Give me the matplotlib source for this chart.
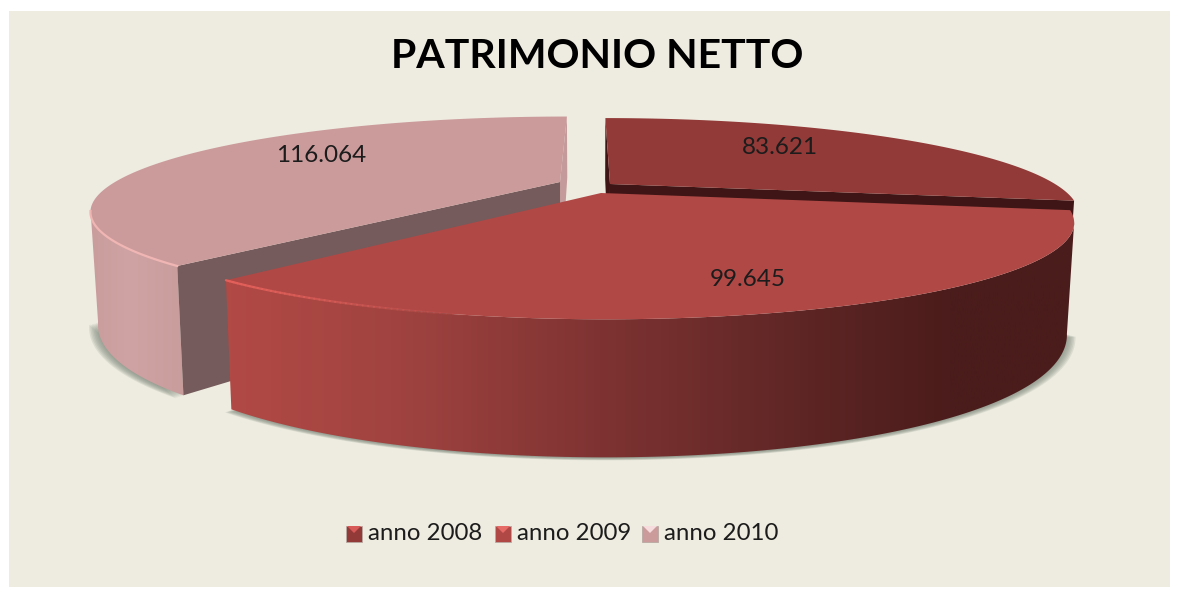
import numpy as np
import matplotlib
matplotlib.use("Agg")
import matplotlib.pyplot as plt
from matplotlib.patches import Polygon, Rectangle

plt.rcParams["font.family"] = ["Lato", "DejaVu Sans"]

# data
years = ["anno 2008", "anno 2009", "anno 2010"]
values = [83.621, 99.645, 116.064]

# styling for each slice
top_colors = ["#923a38", "#b04846", "#cb9b9b"]
inner_colors = ["#3f1615", "#4a1c1a", "#755b5b"]
legend_light = ["#d85a58", "#e66a66", "#f6dcdc"]

# 3d look of the pie, in pixels of the picture
X0, Y0 = 590, 190
A, B = 445, 87.5
PERSP = 0.30
TAPER = 0.985
# x shift, y shift, width factor of each exploded slice
offsets = [(20, -6, 1.0), (11, 3, 1.012), (-30, -8, 1.0)]

# where the outline turns away from the viewer, side walls stop there
SILHOUETTE_R = np.pi - np.arcsin(np.sqrt(1 - PERSP ** 2))
SILHOUETTE_L = 2 * np.pi - SILHOUETTE_R


def project(theta, r, off, bottom=False):
    """Map angle (clockwise from 12 o'clock) and radius to picture pixels."""
    u = r * np.sin(theta)
    v = -r * np.cos(theta)
    s = 1 / (1 - PERSP * v)
    px = (off[0] + A * off[2] * u) * s
    py = (off[1] + B * v) * s
    if bottom:
        return X0 + px * TAPER, Y0 + py * TAPER + 100 + 40 * v
    return X0 + px, Y0 + py


def gradient_poly(ax, xs, ys, stops, colors, zorder):
    """Fill a polygon with a left to right colour gradient."""
    grid = np.linspace(stops[0], stops[-1], 400)
    rgb = np.array([matplotlib.colors.to_rgb(c) for c in colors])
    img = np.stack([np.interp(grid, stops, rgb[:, i]) for i in range(3)], axis=1)[None, :, :]
    im = ax.imshow(img, extent=(stops[0], stops[-1], 596, 0), aspect="auto", zorder=zorder)
    patch = Polygon(np.column_stack([xs, ys]), closed=True, transform=ax.transData, fc="none", ec="none")
    ax.add_patch(patch)
    im.set_clip_path(patch)


def draw_shadow(ax, th, off):
    # stacked outlines give a soft edge, wider sideways than downwards
    bx, by = project(th, 1, off, bottom=True)
    cx = 590
    for grow in np.linspace(1.018, 0.995, 9):
        ax.fill(cx + (bx - cx) * grow, by + 3 * (grow - 0.995) / 0.023,
                color="#7f8a7c", alpha=0.17, lw=0, zorder=1)


def side_poly(th, off):
    tx, ty = project(th, 1, off)
    bx, by = project(th, 1, off, bottom=True)
    return np.r_[tx, bx[::-1]], np.r_[ty, by[::-1]]


def cut_face(ax, t, off, color, zorder, cut=1.0):
    # cut < 1 draws only the upper part of the wall
    ax1, ay1 = project(t, 0, off)
    ax2, ay2 = project(t, 0, off, bottom=True)
    ox1, oy1 = project(t, 1, off)
    ox2, oy2 = project(t, 1, off, bottom=True)
    ax2, ay2 = ax1 + (ax2 - ax1) * cut, ay1 + (ay2 - ay1) * cut
    ox2, oy2 = ox1 + (ox2 - ox1) * cut, oy1 + (oy2 - oy1) * cut
    ax.fill([ax1, ox1, ox2, ax2], [ay1, oy1, oy2, ay2], color=color, lw=0, zorder=zorder)


fig = plt.figure(figsize=(11.8, 5.96), dpi=100, facecolor="white")
ax = fig.add_axes([0, 0, 1, 1])
ax.add_patch(Rectangle((9, 11), 1161, 576, fc="#eeece1", ec="none", zorder=0))

angles = np.radians(np.r_[0, np.cumsum(values)] / sum(values) * 360)
arcs = [np.linspace(angles[i], angles[i + 1], 200) for i in range(3)]

draw_shadow(ax, np.linspace(angles[2], SILHOUETTE_L, 80), offsets[2])
draw_shadow(ax, np.linspace(SILHOUETTE_R, angles[2], 120), offsets[1])

# slice 2010 (back left)
xs, ys = side_poly(np.linspace(angles[2], SILHOUETTE_L, 80), offsets[2])
gradient_poly(ax, xs, ys, [85, 130, 205], ["#c99c9c", "#cfa3a3", "#c79a9a"], 2)
cut_face(ax, angles[3], offsets[2], "#c49a9a", 2.1)
cut_face(ax, angles[2], offsets[2], inner_colors[2], 2.2)
tx, ty = project(arcs[2], 1, offsets[2])
ax0, ay0 = project(0, 0, offsets[2])
ax.fill(np.r_[tx, ax0], np.r_[ty, ay0], color=top_colors[2], lw=0, zorder=2.3)
keep = arcs[2] < SILHOUETTE_L
ax.plot(tx[keep], ty[keep], color="#f0b6b4", lw=1.6, zorder=2.4)

# slice 2008 (back right), only a thin band of its walls shows behind 2009
cut_face(ax, angles[0], offsets[0], inner_colors[0], 3.1)
cut_face(ax, angles[1], offsets[0], inner_colors[0], 3.2, cut=0.2)
tx, ty = project(arcs[0], 1, offsets[0])
ax0, ay0 = project(0, 0, offsets[0])
ax.fill(np.r_[tx, ax0], np.r_[ty, ay0], color=top_colors[0], lw=0, zorder=3.3)

# slice 2009 (front)
xs, ys = side_poly(np.linspace(SILHOUETTE_R, angles[2], 200), offsets[1])
gradient_poly(ax, xs, ys, [220, 400, 600, 800, 950, 1085],
              ["#b24a46", "#a04340", "#7e3332", "#5e2625", "#4b1c1b", "#4a1c1b"], 4)
tx, ty = project(arcs[1], 1, offsets[1])
ax0, ay0 = project(0, 0, offsets[1])
ax.fill(np.r_[tx, ax0], np.r_[ty, ay0], color=top_colors[1], lw=0, zorder=4.3)
# rim highlight fades out towards the middle of the front edge
for i in range(150, 199):
    fade = (i - 150) / 48
    ax.plot(tx[i:i + 2], ty[i:i + 2], color="#e4605a", alpha=fade, lw=1.6, zorder=4.4,
            solid_capstyle="round")

# value labels
label_xy = [(780, 147), (748, 280), (321, 156)]
for v, (lx, ly) in zip(values, label_xy):
    ax.text(lx, ly, f"{v:.3f}", ha="center", va="center", fontsize=17.5,
            color="#1c1c1c", zorder=6)

ax.text(597, 57, "PATRIMONIO NETTO", ha="center", va="center", fontsize=29.5,
        fontweight="bold", color="black", zorder=6)

# legend
legend_x = [346, 495, 642]
for i, name in enumerate(years):
    lx = legend_x[i]
    ax.add_patch(Rectangle((lx, 526), 16, 16, fc=top_colors[i], ec="#b9a9a2", lw=0.6, zorder=6))
    ax.add_patch(Polygon([(lx + 1, 526), (lx + 15, 526), (lx + 8, 533)], closed=True,
                         fc=legend_light[i], ec="none", zorder=6.1))
    ax.text(lx + 22, 533, name, ha="left", va="center", fontsize=17.3, color="#1c1c1c", zorder=6)

ax.set_xlim(0, 1180)
ax.set_ylim(596, 0)
ax.axis("off")
fig.savefig("out.png", dpi=100, facecolor="white")
plt.close(fig)
